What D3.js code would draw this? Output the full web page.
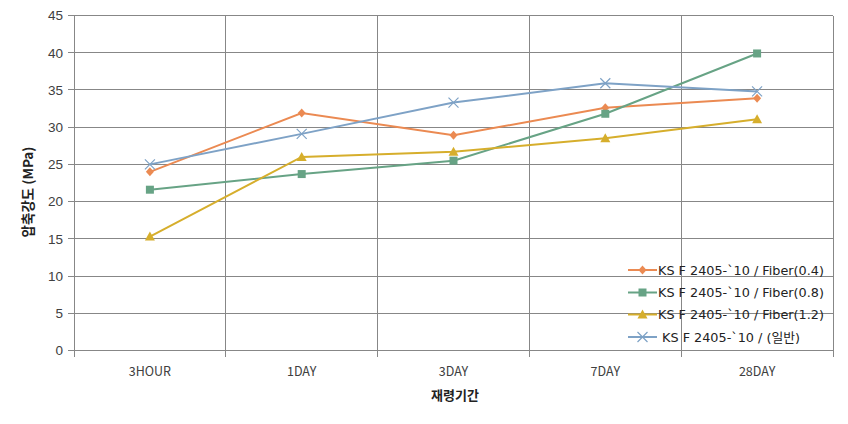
<!DOCTYPE html>
<html>
<head>
<meta charset="utf-8">
<script src="https://cdn.jsdelivr.net/npm/d3@7/dist/d3.min.js"></script>
<style>
  body { margin: 0; background: #fff; }
  svg { display: block; }
  text { font-family: "Noto Sans CJK KR", "DejaVu Sans", sans-serif; }
  .leg { font-family: "DejaVu Sans", "Noto Sans CJK KR", sans-serif; }
  .ytk { font-family: "Liberation Sans", "DejaVu Sans", sans-serif; }
</style>
</head>
<body>
<svg id="chart" width="848" height="424"></svg>
<script>
const categories = ["3HOUR", "1DAY", "3DAY", "7DAY", "28DAY"];
const seriesNames = [
  "KS F 2405-`10 / Fiber(0.4)",
  "KS F 2405-`10 / Fiber(0.8)",
  "KS F 2405-`10 / Fiber(1.2)",
  " KS F 2405-`10 / (일반)"
];
const fiber04 = [24.0, 31.9, 28.9, 32.6, 33.9];
const fiber08 = [21.6, 23.7, 25.5, 31.8, 39.9];
const fiber12 = [15.3, 26.0, 26.7, 28.5, 31.05];
const plain   = [25.0, 29.1, 33.3, 35.9, 34.8];
const yTicks = [0, 5, 10, 15, 20, 25, 30, 35, 40, 45];
const yTitle = "압축강도 (MPa)";
const xTitle = "재령기간";

const seriesValues = [fiber04, fiber08, fiber12, plain];
const colors = ["#EB8A52", "#67A385", "#D6AE2C", "#7EA2C6"];
const markers = ["diamond", "square", "triangle", "x"];

const svg = d3.select("#chart");
const L = 74, R = 833, T = 15.5, B = 350.5;

const x = d3.scaleBand().domain(categories).range([L, R]).paddingInner(0).paddingOuter(0);
const y = d3.scaleLinear().domain([0, 45]).range([B, T]);
const cx = c => x(c) + x.bandwidth() / 2;

const gridColor = "#878787";
svg.append("g").selectAll("line").data(yTicks).join("line")
  .attr("x1", L - 6).attr("x2", R)
  .attr("y1", d => y(d)).attr("y2", d => y(d))
  .attr("stroke", gridColor).attr("stroke-width", 1).attr("shape-rendering", "crispEdges");
const vEdges = categories.map(c => x(c)).concat([R]);
svg.append("g").selectAll("line").data(vEdges).join("line")
  .attr("x1", d => d).attr("x2", d => d)
  .attr("y1", T).attr("y2", B + 6)
  .attr("stroke", gridColor).attr("stroke-width", 1).attr("shape-rendering", "crispEdges");

svg.append("g").selectAll("text").data(yTicks).join("text")
  .attr("class", "ytk")
  .attr("x", L - 11).attr("y", d => y(d)).attr("dy", "0.36em")
  .attr("text-anchor", "end").attr("font-size", 13.5).attr("fill", "#404040")
  .text(d => d);

svg.append("g").selectAll("text").data(categories).join("text")
  .attr("x", d => cx(d)).attr("y", 376)
  .attr("text-anchor", "middle").attr("font-size", 12.5).attr("fill", "#404040")
  .text(d => d);

svg.append("text").attr("x", 455).attr("y", 400).attr("text-anchor", "middle")
  .attr("font-size", 13).attr("font-weight", "bold").attr("fill", "#222").text(xTitle);
svg.append("text").attr("transform", "translate(33,192) rotate(-90)")
  .attr("text-anchor", "middle").attr("font-size", 13.5).attr("font-weight", "bold")
  .attr("fill", "#222").text(yTitle);

function drawMarker(g, type, px, py, color) {
  if (type === "diamond") {
    g.append("path").attr("d", `M${px},${py-4.5}L${px+4},${py}L${px},${py+4.5}L${px-4},${py}Z`).attr("fill", color);
  } else if (type === "square") {
    g.append("rect").attr("x", px - 4).attr("y", py - 4).attr("width", 8).attr("height", 8).attr("fill", color);
  } else if (type === "triangle") {
    g.append("path").attr("d", `M${px},${py-5}L${px+5},${py+4}L${px-5},${py+4}Z`).attr("fill", color);
  } else {
    g.append("path").attr("d", `M${px-5},${py-5}L${px+5},${py+5}M${px+5},${py-5}L${px-5},${py+5}`)
      .attr("stroke", color).attr("stroke-width", 1.2).attr("fill", "none");
  }
}

const line = d3.line().x((d, i) => cx(categories[i])).y(d => y(d));
seriesValues.forEach((vals, si) => {
  const g = svg.append("g");
  g.append("path").datum(vals).attr("d", line)
    .attr("fill", "none").attr("stroke", colors[si]).attr("stroke-width", 2);
  vals.forEach((v, i) => drawMarker(g, markers[si], cx(categories[i]), y(v), colors[si]));
});

const legY = [270, 292.5, 314.5, 337];
seriesNames.forEach((name, i) => {
  const g = svg.append("g");
  g.append("line").attr("x1", 628).attr("x2", 657).attr("y1", legY[i]).attr("y2", legY[i])
    .attr("stroke", colors[i]).attr("stroke-width", 2);
  drawMarker(g, markers[i], 642.5, legY[i], colors[i]);
  g.append("text").attr("class", "leg").attr("x", 658).attr("y", legY[i]).attr("dy", "0.36em")
    .attr("font-size", 12.8).attr("fill", "#222")
    .style("white-space", "pre").text(name);
});
</script>
</body>
</html>
